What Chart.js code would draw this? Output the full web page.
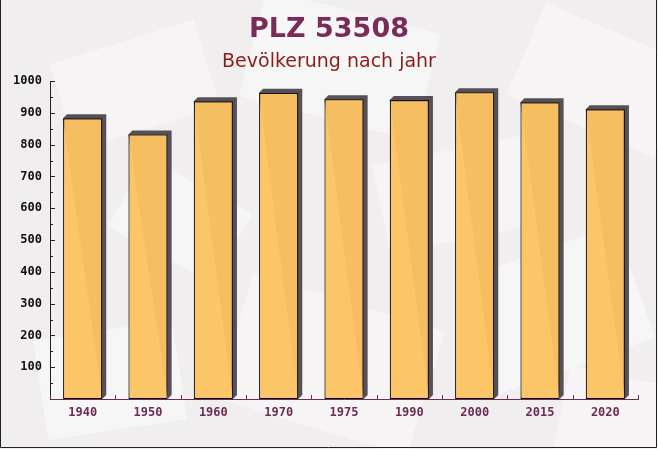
<!DOCTYPE html>
<html>
<head>
<meta charset="utf-8">
<script src="https://cdn.jsdelivr.net/npm/chart.js@4/dist/chart.umd.min.js"></script>
<style>
  html, body { margin: 0; padding: 0; background: #f3f0f2; }
  #wrap { width: 658px; height: 449px; }
</style>
</head>
<body>
<div id="wrap"><canvas id="plzChart" width="658" height="449"></canvas></div>
<script>
const ctx = document.getElementById('plzChart').getContext('2d');

// Daten
const jahre = ['1940', '1950', '1960', '1970', '1975', '1990', '2000', '2015', '2020'];
const einwohner = [883, 832, 936, 963, 943, 940, 965, 933, 911];
const yTicks = [100, 200, 300, 400, 500, 600, 700, 800, 900, 1000];

const titel = 'PLZ 53508';
const untertitel = 'Bevölkerung nach jahr';

// Hintergrund mit blassen "Briefumschlägen"
const hintergrund = {
    id: 'hintergrund',
    beforeDraw(chart) {
        const c = chart.ctx;
        c.save();
        c.fillStyle = '#f1eef0';
        c.fillRect(0, 0, chart.width, chart.height);
        const shapes = [
            [60, 40, 150, 90, -0.3], [250, 10, 180, 110, 0.25], [520, 30, 160, 100, 0.4],
            [40, 330, 140, 100, -0.15], [230, 300, 200, 130, 0.3], [470, 250, 170, 120, -0.35],
            [560, 380, 150, 90, 0.2], [120, 180, 120, 80, 0.5], [380, 150, 150, 90, -0.2]
        ];
        shapes.forEach(([x, y, w, h, r], i) => {
            c.save();
            c.translate(x + w / 2, y + h / 2);
            c.rotate(r);
            c.fillStyle = i % 2 ? 'rgba(255,255,255,0.45)' : 'rgba(250,248,249,0.6)';
            c.fillRect(-w / 2, -h / 2, w, h);
            c.restore();
        });
        // Titel
        c.textAlign = 'center';
        c.textBaseline = 'middle';
        c.fillStyle = '#7b2b58';
        c.font = 'bold 27px "DejaVu Sans"';
        c.fillText(titel, chart.width / 2, 30);
        c.fillStyle = '#8b1c1c';
        c.font = '19px "DejaVu Sans"';
        c.fillText(untertitel, chart.width / 2, 62);
        c.restore();
    },
    afterDraw(chart) {
        const c = chart.ctx;
        c.save();
        c.strokeStyle = '#222';
        c.lineWidth = 1;
        c.beginPath();
        c.moveTo(0.5, 0);
        c.lineTo(0.5, chart.height - 1.5);
        c.lineTo(chart.width - 1.5, chart.height - 1.5);
        c.lineTo(chart.width - 1.5, 0);
        c.stroke();
        c.restore();
    }
};

// 3D-Schatten der Balken und Achsenstriche
const schatten = {
    id: 'schatten',
    beforeDatasetsDraw(chart) {
        const c = chart.ctx;
        const d = 4;
        c.save();
        c.fillStyle = 'rgba(70,62,70,0.9)';
        chart.getDatasetMeta(0).data.forEach(bar => {
            const x1 = bar.x - bar.width / 2, x2 = bar.x + bar.width / 2;
            const y = bar.y, b = bar.base;
            c.beginPath();
            c.moveTo(x1, y);
            c.lineTo(x1 + d, y - d);
            c.lineTo(x2 + d, y - d);
            c.lineTo(x2 + d, b - d);
            c.lineTo(x2, b);
            c.closePath();
            c.fill();
        });
        c.restore();
    },
    afterDatasetsDraw(chart) {
        const c = chart.ctx;
        const xs = chart.scales.x, ys = chart.scales.y;
        c.save();
        c.lineWidth = 1;
        c.strokeStyle = '#222';
        for (let v = 50; v <= 1000; v += 50) {
            const py = Math.round(ys.getPixelForValue(v)) + 0.5;
            c.beginPath();
            c.moveTo(xs.left, py);
            c.lineTo(xs.left + (v % 100 === 0 ? 5 : 3), py);
            c.stroke();
        }
        c.strokeStyle = '#6b2c55';
        for (let i = 0; i <= jahre.length; i++) {
            const px = Math.round(xs.getPixelForValue(i - 0.5)) + 0.5;
            c.beginPath();
            c.moveTo(px, ys.bottom);
            c.lineTo(px, ys.bottom - 4);
            c.stroke();
        }
        c.restore();
    }
};

const plzChart = new Chart(ctx, {
    type: 'bar',
    data: {
        labels: jahre,
        datasets: [{
            label: 'Bevölkerung',
            data: einwohner,
            backgroundColor: 'rgba(252,196,98,0.96)',
            borderColor: '#111',
            borderWidth: 1.2,
            borderSkipped: false,
            barPercentage: 0.6,
            categoryPercentage: 1.0
        }]
    },
    options: {
        responsive: false,
        animation: false,
        layout: { padding: { top: 81, right: 20, left: 0, bottom: 0 } },
        plugins: {
            legend: { display: false },
            tooltip: { enabled: false }
        },
        scales: {
            x: {
                grid: { display: false, drawTicks: false },
                border: { color: '#6b2c55', width: 1 },
                ticks: {
                    color: '#6b2c55',
                    padding: 7,
                    font: { family: '"DejaVu Sans Mono"', size: 12, weight: 'bold' }
                },
                afterFit(scale) { scale.height = 50; }
            },
            y: {
                min: 0,
                max: 1000,
                afterBuildTicks(scale) { scale.ticks = yTicks.map(v => ({ value: v })); },
                grid: { display: false, drawTicks: false },
                border: { color: '#222', width: 1 },
                ticks: {
                    color: '#111',
                    padding: 8,
                    callback: v => String(v),
                    font: { family: '"DejaVu Sans Mono"', size: 12, weight: 'bold' }
                },
                afterFit(scale) { scale.width = 50; }
            }
        }
    },
    plugins: [hintergrund, schatten]
});
</script>
</body>
</html>
